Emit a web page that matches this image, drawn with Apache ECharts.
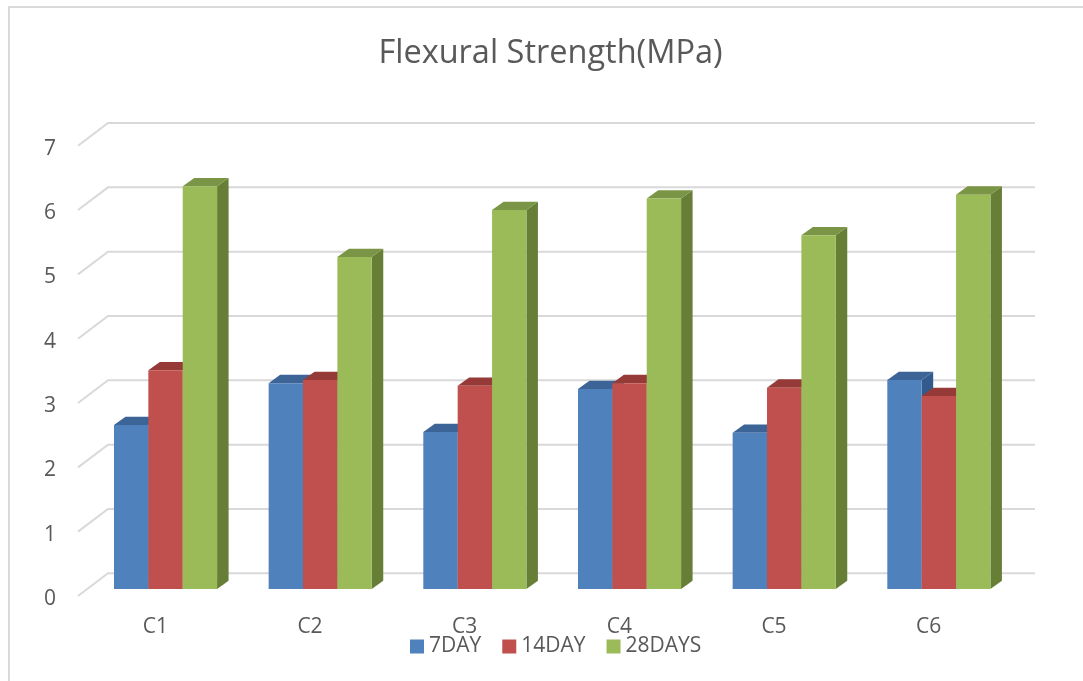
<!DOCTYPE html>
<html>
<head>
<meta charset="utf-8">
<style>html,body{margin:0;padding:0;background:#fff}#c{width:1083px;height:681px}</style>
<script src="https://cdn.jsdelivr.net/npm/echarts@6/dist/echarts.min.js"></script>
</head>
<body>
<div id="c"></div>
<script>
const categories = ['C1','C2','C3','C4','C5','C6'];
const day7   = [2.55,3.20,2.44,3.11,2.43,3.25];
const day14  = [3.40,3.25,3.16,3.20,3.13,3.00];
const day28  = [6.26,5.16,5.89,6.07,5.50,6.13];
const yTicks = [0,1,2,3,4,5,6,7];
const names  = ['7DAY','14DAY','28DAYS'];

const FONT = '"Open Sans", sans-serif';
const GRAY = '#595959';
const palette = [
  {front:'#4F81BD', top:'#3C6496', side:'#325A8C'},
  {front:'#C0504D', top:'#963A38', side:'#833432'},
  {front:'#9BBB59', top:'#7A9545', side:'#677E37'}
];
// 3D projection: wall depth and bar depth, in pixels
const WALL_DX = 30, WALL_DY = 22.7, BAR_DX = 11.5, BAR_DY = 8.3, FRONT_DX = 10.2, FRONT_DY = 7;

function barRender(si){
  return function(params, api){
    const band = api.size([1,0])[0];
    const w = band/4.5;
    const p = api.coord([api.value(0), api.value(1)]);
    const b = api.coord([api.value(0), 0]);
    const xl = p[0] + FRONT_DX + (si-1.5)*w;
    const xr = xl + w;
    const yt = p[1] - FRONT_DY;
    const yb = b[1] - FRONT_DY;
    const c = palette[si];
    return {type:'group', children:[
      {type:'polygon', shape:{points:[[xr,yt],[xr+BAR_DX,yt-BAR_DY],[xr+BAR_DX,yb-BAR_DY],[xr,yb]]}, style:{fill:c.side}},
      {type:'polygon', shape:{points:[[xl,yt],[xl+BAR_DX,yt-BAR_DY],[xr+BAR_DX,yt-BAR_DY],[xr,yt]]}, style:{fill:c.top}},
      {type:'rect', shape:{x:xl,y:yt,width:w,height:yb-yt}, style:{fill:c.front}}
    ]};
  };
}
function gridRender(params, api){
  const cs = params.coordSys;
  const y = api.coord([0, api.value(0)])[1];
  return {type:'polyline', shape:{points:[[cs.x,y],[cs.x+WALL_DX,y-WALL_DY],[cs.x+cs.width+WALL_DX-1,y-WALL_DY]]},
    style:{fill:null, stroke:'#D9D9D9', lineWidth:2}};
}

const chart = echarts.init(document.getElementById('c'), null, {renderer:'canvas'});
chart.setOption({
  animation:false,
  backgroundColor:'#fff',
  title:{text:'Flexural Strength(MPa)', left:545.5, top:32, textAlign:'center',
    textStyle:{fontFamily:FONT,fontSize:32.5,fontWeight:'normal',color:GRAY}},
  legend:{data:names, left:410, top:636, icon:'rect', itemWidth:14, itemHeight:14, itemGap:21, padding:0,
    textStyle:{fontFamily:FONT,fontSize:21,color:GRAY}},
  grid:{left:78, right:77, top:145.7, bottom:85},
  xAxis:{type:'category', data:categories, axisLine:{show:false}, axisTick:{show:false}, splitLine:{show:false},
    axisLabel:{fontFamily:FONT,fontSize:21,color:GRAY,margin:21}},
  yAxis:{type:'value', min:0, max:7, interval:1, axisLine:{show:false}, axisTick:{show:false}, splitLine:{show:false},
    axisLabel:{fontFamily:FONT,fontSize:21,color:GRAY,margin:22,verticalAlign:'top',lineHeight:6}},
  graphic:[
    {type:'polyline', silent:true, z:-1, shape:{points:[[9,681],[9,7],[1083,7]]}, style:{fill:null,stroke:'#D9D9D9',lineWidth:2}}
  ],
  series:[
    {type:'custom', name:'grid', coordinateSystem:'cartesian2d', clip:false, z:1, silent:true,
      data:yTicks.map(v=>[v]), encode:{y:0}, renderItem:gridRender},
    ...[day7,day14,day28].map((vals,si)=>({
      type:'custom', name:names[si], coordinateSystem:'cartesian2d', clip:false, z:2+si,
      itemStyle:{color:palette[si].front},
      data:vals.map((v,i)=>[i,v]), encode:{x:0,y:1}, renderItem:barRender(si)
    }))
  ]
});
</script>
</body>
</html>
